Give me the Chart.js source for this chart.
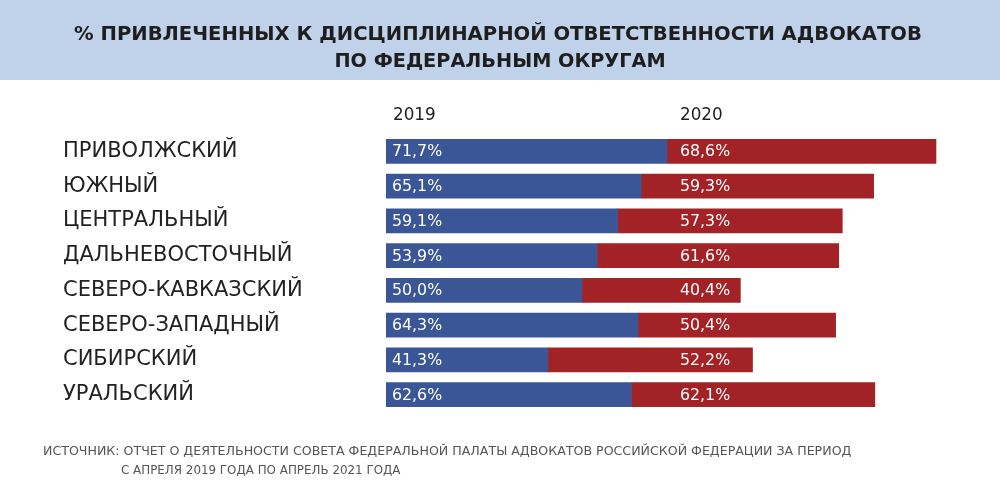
<!DOCTYPE html>
<html>
<head>
<meta charset="utf-8">
<script src="https://cdn.jsdelivr.net/npm/chart.js@4.4.0/dist/chart.umd.min.js"></script>
<style>
  html, body { margin: 0; padding: 0; background: #fff; }
  #wrap { width: 1000px; height: 497px; }
</style>
</head>
<body>
<div id="wrap"><canvas id="districts"></canvas></div>
<script>
var districts = ["ПРИВОЛЖСКИЙ", "ЮЖНЫЙ", "ЦЕНТРАЛЬНЫЙ", "ДАЛЬНЕВОСТОЧНЫЙ",
    "СЕВЕРО-КАВКАЗСКИЙ", "СЕВЕРО-ЗАПАДНЫЙ", "СИБИРСКИЙ", "УРАЛЬСКИЙ"];
var years = ["2019", "2020"];
var values2019 = [71.7, 65.1, 59.1, 53.9, 50.0, 64.3, 41.3, 62.6];
var values2020 = [68.6, 59.3, 57.3, 61.6, 40.4, 50.4, 52.2, 62.1];
var titleLines = ["% ПРИВЛЕЧЕННЫХ К ДИСЦИПЛИНАРНОЙ ОТВЕТСТВЕННОСТИ АДВОКАТОВ",
    "ПО ФЕДЕРАЛЬНЫМ ОКРУГАМ"];
var sourceLines = ["ИСТОЧНИК: ОТЧЕТ О ДЕЯТЕЛЬНОСТИ СОВЕТА ФЕДЕРАЛЬНОЙ ПАЛАТЫ АДВОКАТОВ РОССИЙСКОЙ ФЕДЕРАЦИИ ЗА ПЕРИОД",
    "С АПРЕЛЯ 2019 ГОДА ПО АПРЕЛЬ 2021 ГОДА"];

var FONT = "'DejaVu Sans', sans-serif";
Chart.defaults.font.family = FONT;

function fmt(v) {
    return v.toFixed(1).replace(".", ",") + "%";
}

// band, title, year headers, values inside bars and the source note
var decorPlugin = {
    id: 'decor',
    beforeDraw: function (chart) {
        var ctx = chart.ctx;
        ctx.save();
        ctx.fillStyle = '#c0d1ea';
        ctx.fillRect(0, 0, chart.width, 80);
        ctx.fillStyle = '#1e1e1e';
        ctx.font = "600 19.6px " + FONT;
        ctx.textAlign = 'center';
        ctx.textBaseline = 'middle';
        ctx.fillText(titleLines[0], 498, 35);
        ctx.font = "600 19.3px " + FONT;
        ctx.fillText(titleLines[1], 500, 62);
        ctx.restore();
    },
    afterDatasetsDraw: function (chart) {
        var ctx = chart.ctx;
        var x = chart.scales.x;
        var y = chart.scales.y;
        var col1 = x.getPixelForValue(0) + 6;
        var col2 = x.getPixelForValue(75);
        ctx.save();
        ctx.textBaseline = 'middle';
        ctx.textAlign = 'left';
        ctx.fillStyle = '#1e1e1e';
        ctx.font = "500 16.8px " + FONT;
        ctx.fillText(years[0], col1 + 1, 116);
        ctx.fillText(years[1], col2, 116);
        ctx.fillStyle = '#ffffff';
        ctx.font = "15.8px " + FONT;
        for (var i = 0; i < districts.length; i++) {
            var py = y.getPixelForValue(i);
            ctx.fillText(fmt(values2019[i]), col1, py + 1);
            ctx.fillText(fmt(values2020[i]), col2, py + 1);
        }
        ctx.fillStyle = '#555555';
        ctx.font = "12.6px " + FONT;
        ctx.fillText(sourceLines[0], 43, 452);
        ctx.font = "11.9px " + FONT;
        ctx.fillText(sourceLines[1], 121, 471);
        ctx.restore();
    }
};

new Chart(document.getElementById('districts').getContext('2d'), {
    type: 'bar',
    data: {
        labels: districts,
        datasets: [{
            label: years[0],
            data: values2019,
            backgroundColor: '#3a5697',
            barThickness: 24
        }, {
            label: years[1],
            data: values2020,
            backgroundColor: '#a32226',
            barThickness: 24
        }]
    },
    options: {
        indexAxis: 'y',
        responsive: true,
        maintainAspectRatio: false,
        animation: false,
        layout: { padding: { left: 63, right: 26, top: 134, bottom: 85 } },
        plugins: {
            legend: { display: false },
            tooltip: { enabled: false }
        },
        scales: {
            x: {
                stacked: true,
                display: false,
                min: 0,
                max: 150
            },
            y: {
                stacked: true,
                grid: { display: false },
                border: { display: false },
                afterFit: function (scale) { scale.width = 323; },
                ticks: {
                    crossAlign: 'far',
                    color: '#222222',
                    font: { size: 21 }
                }
            }
        }
    },
    plugins: [decorPlugin]
});
</script>
</body>
</html>
